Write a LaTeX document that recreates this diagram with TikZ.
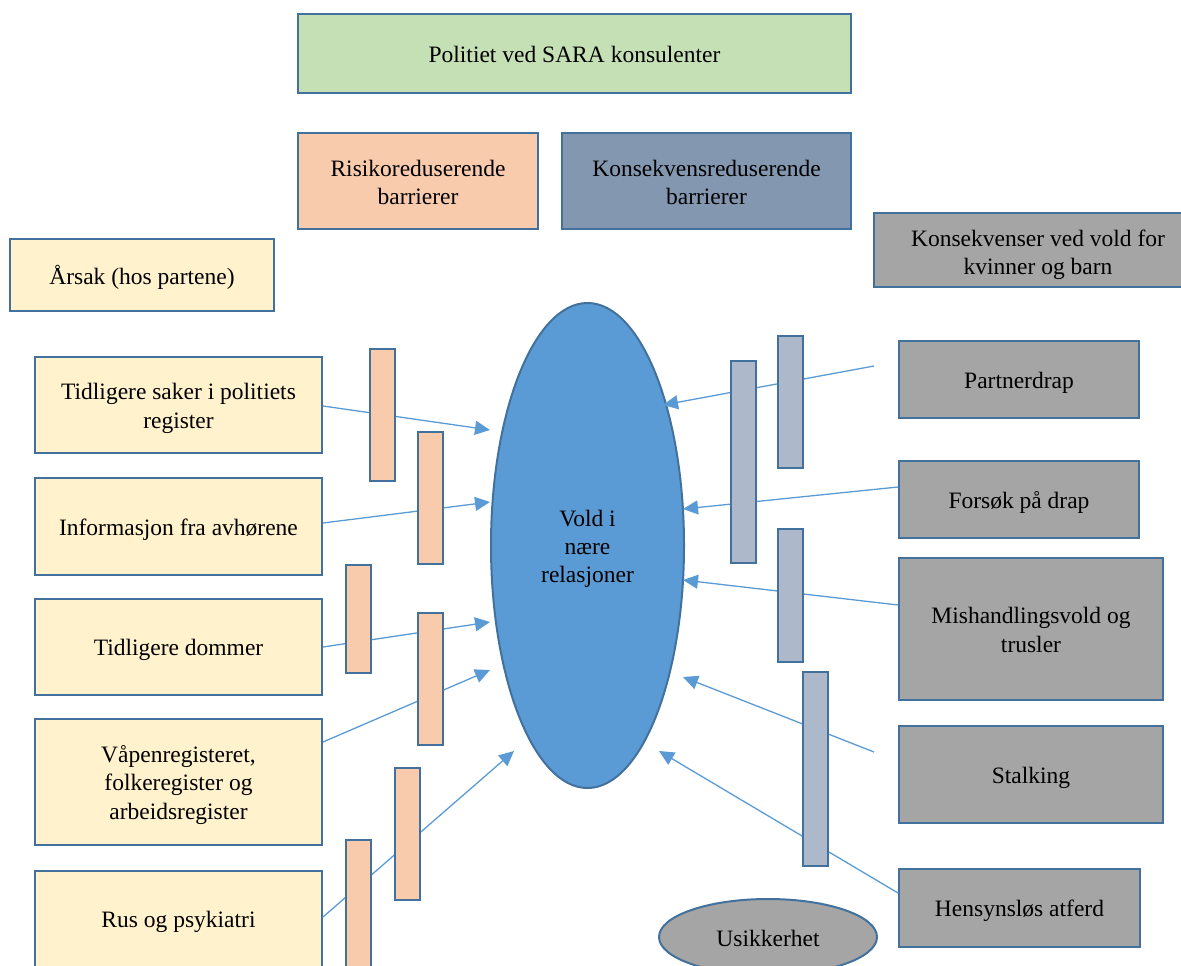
\documentclass[tikz,border=0pt]{standalone}
\usepackage{fontspec}
\setmainfont{Liberation Serif}
\usetikzlibrary{arrows.meta,shapes.geometric}
\definecolor{bordc}{HTML}{41719C}
\definecolor{greenc}{HTML}{C5E0B4}
\definecolor{orangec}{HTML}{F8CBAD}
\definecolor{slatec}{HTML}{8497B0}
\definecolor{yellowc}{HTML}{FFF2CC}
\definecolor{grayc}{HTML}{A5A5A5}
\definecolor{barc}{HTML}{ADB9CA}
\definecolor{bluec}{HTML}{5B9BD5}
\newcommand\lnstrut{\rule[-5pt]{0pt}{28pt}}
\tikzset{
  txt/.style={align=center, inner sep=0pt, font=\fontsize{23.5}{28}\selectfont,
    execute at begin node=\lnstrut, execute at end node=\lnstrut},
  bx/.style={txt, draw=bordc, line width=2pt},
  ybox/.style={bx, fill=yellowc, minimum width=287pt},
  gbox/.style={bx, fill=grayc},
  obar/.style={draw=bordc, line width=2pt, fill=orangec, minimum width=25pt, inner sep=0pt},
  rbar/.style={draw=bordc, line width=2pt, fill=barc, minimum width=25pt, inner sep=0pt},
  conn/.style={draw=bluec, line width=1.3pt, -{Triangle[length=15pt,width=14pt]}},
  oval/.style={bx, ellipse}
}
\begin{document}
\begin{tikzpicture}[x=1pt,y=-1pt]
\useasboundingbox (0,0) rectangle (1181,966);
\clip (0,0) rectangle (1181,966);

% header boxes
\node[bx, fill=greenc, minimum width=553pt, minimum height=79pt] (top) at (574.5,53.5) {Politiet ved SARA konsulenter};
\node[bx, fill=orangec, minimum width=240pt, minimum height=96pt] (risk) at (418,181) {\lnstrut Risikoreduserende\\barrierer\lnstrut};
\node[bx, fill=slatec, minimum width=289pt, minimum height=96pt] (kons) at (706.5,181) {\lnstrut Konsekvensreduserende\\barrierer\lnstrut};
\node[gbox, minimum width=328pt, minimum height=74pt] (kq) at (1038,250) {};
\begin{scope}
  \clip (875,214) rectangle (1202,286);
  \node[txt] (kqt) at (1038,252) {\lnstrut Konsekvenser ved vold for\\kvinner og barn\lnstrut};
\end{scope}
\node[bx, fill=yellowc, minimum width=264pt, minimum height=72pt] (arsak) at (142,275) {Årsak (hos partene)};

% left boxes
\node[ybox, minimum height=96pt] (l1) at (178.5,405) {\lnstrut Tidligere saker i politiets\\register\lnstrut};
\node[ybox, minimum height=97pt] (l2) at (178.5,526.5) {Informasjon fra avhørene};
\node[ybox, minimum height=96pt] (l3) at (178.5,647) {Tidligere dommer};
\node[ybox, minimum height=126pt] (l4) at (178.5,782) {\lnstrut Våpenregisteret,\\folkeregister og\\arbeidsregister\lnstrut};
\node[ybox, minimum height=96pt] (l5) at (178.5,919) {Rus og psykiatri};

% center ellipse
\node[oval, fill=bluec, minimum width=193pt, minimum height=485pt] (vold) at (587.5,545.5) {\lnstrut Vold i\\nære\\relasjoner\lnstrut};

% right boxes
\node[gbox, minimum width=240pt, minimum height=77pt] (r1) at (1019,379.5) {Partnerdrap};
\node[gbox, minimum width=240pt, minimum height=77pt] (r2) at (1019,499.5) {Forsøk på drap};
\node[gbox, minimum width=264pt, minimum height=142pt] (r3) at (1031,629) {\lnstrut Mishandlingsvold og\\trusler\lnstrut};
\node[gbox, minimum width=264pt, minimum height=97pt] (r4) at (1031,774.5) {Stalking};
\node[gbox, minimum width=241pt, minimum height=78pt] (r5) at (1019.5,908) {Hensynsløs atferd};

% uncertainty
\node[oval, fill=grayc, minimum width=218pt, minimum height=76pt] (usik) at (768,937) {Usikkerhet};

% arrow tips
\coordinate (t1) at (490,430);
\coordinate (t2) at (490,502);
\coordinate (t3) at (490,622);
\coordinate (t4) at (490,670);
\coordinate (t5) at (514,751);
\coordinate (t6) at (663,405);
\coordinate (t7) at (683,509);
\coordinate (t8) at (683,580);
\coordinate (t9) at (683,677);
\coordinate (t10) at (659,751);

% connectors
\draw[conn] ([yshift=-1pt]l1.east) -- (t1);
\draw[conn] ([yshift=3.5pt]l2.east) -- (t2);
\draw[conn] (l3.east) -- (t3);
\draw[conn] ([yshift=40pt]l4.east) -- (t4);
\draw[conn] ([yshift=2pt]l5.east) -- (t5);
\draw[conn] ([xshift=-24pt,yshift=13.5pt]r1.west) -- (t6);
\draw[conn] ([yshift=12.5pt]r2.west) -- (t7);
\draw[conn] ([yshift=24pt]r3.west) -- (t8);
\draw[conn] ([xshift=-24pt,yshift=22.5pt]r4.west) -- (t9);
\draw[conn] ([yshift=15pt]r5.west) -- (t10);

% risk-reducing barriers
\node[obar, minimum height=132pt] (ba) at (382.5,415) {};
\node[obar, minimum height=132pt] (bb) at (430.5,498) {};
\node[obar, minimum height=108pt] (bc) at (358.5,619) {};
\node[obar, minimum height=132pt] (bd) at (430.5,679) {};
\node[obar, minimum height=132pt] (be) at (407.5,834) {};
\node[obar, minimum height=132pt] (bf) at (358.5,906) {};

% consequence-reducing barriers
\node[rbar, minimum height=132pt] (ra) at (790.5,402) {};
\node[rbar, minimum height=202pt] (rb) at (743.5,462) {};
\node[rbar, minimum height=133pt] (rc) at (790.5,595.5) {};
\node[rbar, minimum height=194pt] (rd) at (815.5,769) {};
\end{tikzpicture}
\end{document}
